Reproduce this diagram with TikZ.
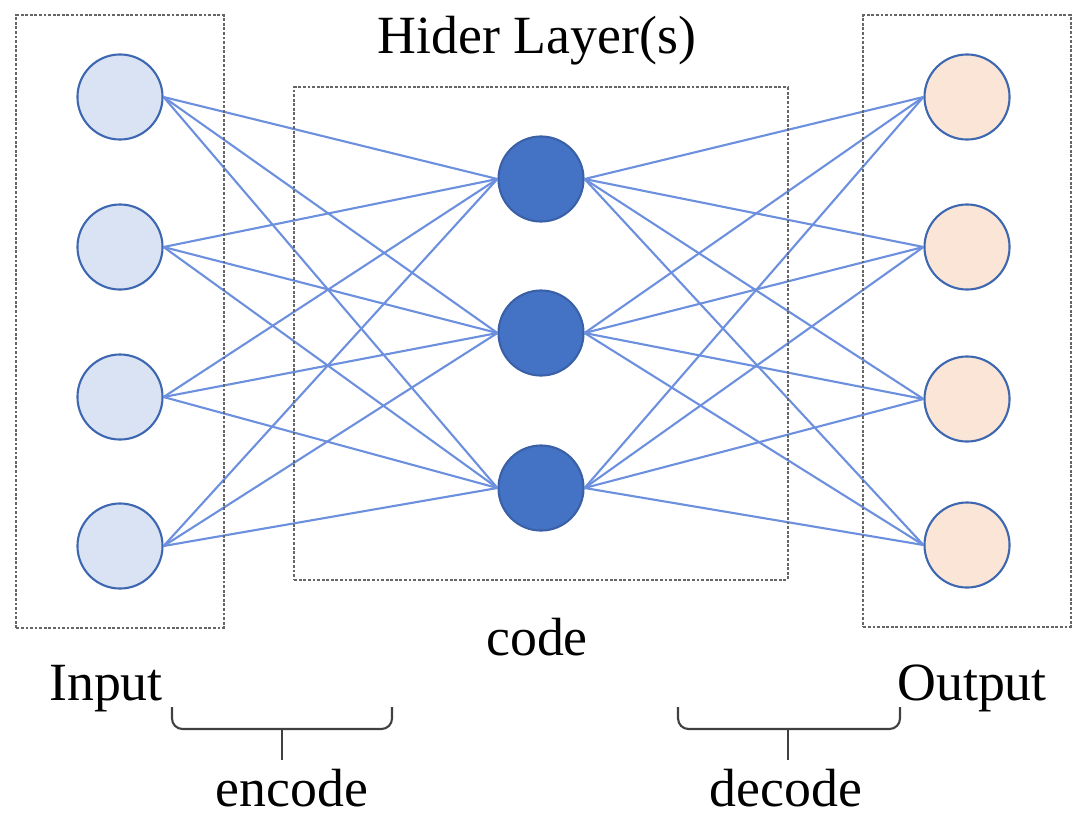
\documentclass[tikz,border=0pt]{standalone}
\usepackage{fontspec}
\setmainfont{Liberation Serif}
\usetikzlibrary{fit}
\definecolor{nnblue}{RGB}{68,114,196}
\definecolor{edgeblue}{RGB}{108,144,222}
\definecolor{inblue}{RGB}{218,227,243}
\definecolor{outpeach}{RGB}{251,229,214}

\begin{document}
\begin{tikzpicture}[x=0.01cm,y=-0.01cm,
      neuron/.style={circle,draw=nnblue!90!black,line width=0.6pt,minimum size=0.85cm,inner sep=0pt},
      input/.style={neuron,fill=inblue},
      hidden/.style={neuron,fill=nnblue,draw=nnblue!85!black},
      output/.style={neuron,fill=outpeach},
      weight/.style={edgeblue,line width=0.6pt},
      every fit/.style={draw=black!60,dash pattern=on 0.8pt off 0.5pt,line width=0.6pt},
      lbl/.style={font=\fontsize{15.3}{18}\selectfont,anchor=base,inner sep=0pt},
      brace/.style={draw=black!75,line width=0.6pt,rounded corners=3pt}
      ]
      \useasboundingbox (0,0) rectangle (1077,815);
      % layers
      \node[input] (in1) at (120,97) {};
      \node[input] (in2) at (120,247) {};
      \node[input] (in3) at (120,397) {};
      \node[input] (in4) at (120,546) {};
      \node[hidden] (hid1) at (541,179) {};
      \node[hidden] (hid2) at (541,333) {};
      \node[hidden] (hid3) at (541,488) {};
      \node[output] (out1) at (967,97) {};
      \node[output] (out2) at (967,247) {};
      \node[output] (out3) at (967,399) {};
      \node[output] (out4) at (967,545) {};
      % weights
      \foreach \i in {1,...,4}
        \foreach \j in {1,2,3} {
          \draw[weight] (in\i.east) -- (hid\j.west);
          \draw[weight] (hid\j.east) -- (out\i.west);
        }
      % dotted frames
      \node[fit=(in1) (in4),inner xsep=0.6cm,inner ysep=0.38cm] (inbox) {};
      \node[fit=(hid1) (hid3),inner xsep=2.03cm,inner ysep=0.48cm] (codebox) {};
      \node[fit=(out1) (out4),inner xsep=0.6cm,inner ysep=0.38cm] (outbox) {};
      % labels
      \node[lbl] (hider) at (537,53) {Hider Layer(s)};
      \node[lbl] (code) at (537,655) {code};
      \node[lbl] (inlbl) at (106,700) {Input};
      \node[lbl] (outlbl) at (972,700) {Output};
      \node[lbl] (enc) at (292,806) {encode};
      \node[lbl] (dec) at (786,806) {decode};
      % braces
      \draw[brace] (172,707) -- (172,729) -- (392,729) -- (392,707);
      \draw[brace] (282,729) -- (282,760);
      \draw[brace] (678,707) -- (678,729) -- (900,729) -- (900,707);
      \draw[brace] (788,729) -- (788,760);
    \end{tikzpicture}
\end{document}
